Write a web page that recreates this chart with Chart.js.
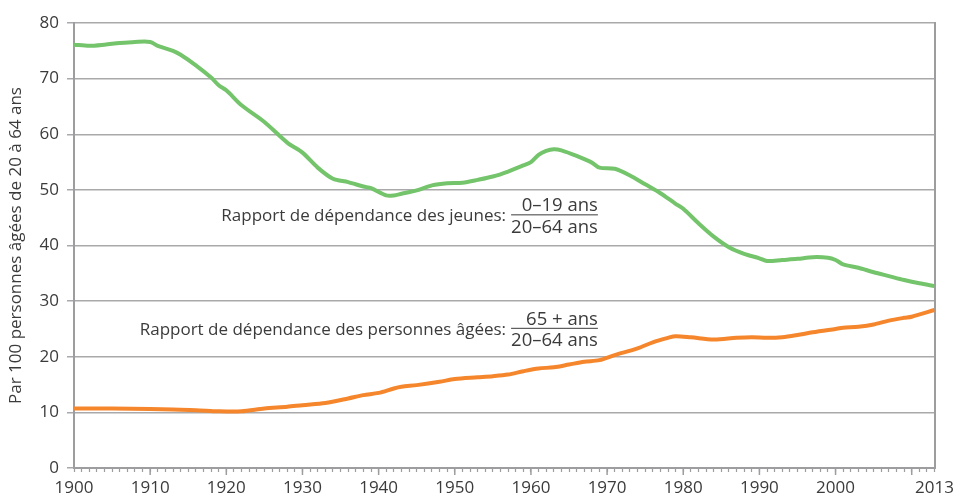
<!DOCTYPE html>
<html>
<head>
<meta charset="utf-8">
<script src="https://cdn.jsdelivr.net/npm/chart.js@4.4.0/dist/chart.umd.min.js"></script>
<style>
  html, body { margin: 0; padding: 0; background: #fff; }
  #wrap { width: 960px; height: 502px; }
</style>
</head>
<body>
<div id="wrap"><canvas id="chart"></canvas></div>
<script>
// Rapport de dépendance des jeunes (0-19 / 20-64)
const youngYears = [1900, 1902, 1904, 1906, 1908, 1910, 1911, 1913, 1914, 1916, 1918, 1919, 1920, 1922, 1925, 1928, 1930, 1932, 1934, 1936, 1938, 1939, 1941, 1942, 1943, 1945, 1947, 1949, 1951, 1953, 1955, 1957, 1959, 1960, 1961, 1962, 1963, 1964, 1966, 1968, 1969, 1971, 1973, 1975, 1977, 1979, 1980, 1982, 1984, 1986, 1988, 1990, 1991, 1993, 1995, 1997, 1999, 2000, 2001, 2003, 2005, 2007, 2009, 2011, 2013]
const youngValues = [76.1, 75.9, 76.1, 76.4, 76.6, 76.6, 75.9, 75.0, 74.3, 72.4, 70.2, 68.8, 67.9, 65.2, 62.2, 58.5, 56.7, 54.0, 52.0, 51.4, 50.6, 50.3, 49.0, 49.0, 49.3, 49.9, 50.8, 51.2, 51.3, 51.8, 52.4, 53.3, 54.4, 55.0, 56.3, 57.0, 57.3, 57.1, 56.1, 54.9, 54.0, 53.8, 52.6, 51.0, 49.4, 47.5, 46.6, 44.0, 41.6, 39.7, 38.5, 37.7, 37.2, 37.4, 37.6, 37.9, 37.8, 37.4, 36.6, 36.0, 35.2, 34.5, 33.8, 33.2, 32.7]

// Rapport de dépendance des personnes âgées (65+ / 20-64)
const oldYears = [1900, 1905, 1910, 1913, 1916, 1919, 1922, 1925, 1928, 1930, 1933, 1936, 1938, 1940, 1942, 1943, 1945, 1948, 1950, 1953, 1955, 1957, 1959, 1961, 1963, 1965, 1967, 1969, 1971, 1974, 1976, 1978, 1979, 1981, 1984, 1987, 1989, 1991, 1993, 1995, 1997, 2000, 2001, 2003, 2005, 2007, 2009, 2010, 2013]
const oldValues = [10.7, 10.7, 10.6, 10.5, 10.4, 10.2, 10.2, 10.7, 11.0, 11.3, 11.7, 12.5, 13.1, 13.5, 14.3, 14.6, 14.9, 15.5, 16.0, 16.3, 16.5, 16.8, 17.4, 17.9, 18.1, 18.6, 19.1, 19.4, 20.3, 21.5, 22.6, 23.4, 23.7, 23.5, 23.1, 23.4, 23.5, 23.4, 23.5, 23.9, 24.4, 25.0, 25.2, 25.4, 25.8, 26.5, 27.0, 27.2, 28.4]

const xLabels = [1900, 1910, 1920, 1930, 1940, 1950, 1960, 1970, 1980, 1990, 2000, 2013]
const yTitle = 'Par 100 personnes âgées de 20 à 64 ans'

const notes = [
  { text: 'Rapport de dépendance des jeunes:', num: '0–19 ans', den: '20–64 ans', x: 1957, y: 45.6 },
  { text: 'Rapport de dépendance des personnes âgées:', num: '65 + ans', den: '20–64 ans', x: 1957, y: 25.2 }
]

const textColor = '#3b3b3b'
const axisColor = '#9d9da0'
const fontFamily = '"Open Sans", sans-serif'
const fontSize = 17

// labels with fractions
const notesPlugin = {
  id: 'notes',
  afterDatasetsDraw(chart) {
    const { ctx, scales } = chart
    ctx.save()
    ctx.fillStyle = textColor
    ctx.strokeStyle = textColor
    ctx.lineWidth = 1
    notes.forEach(n => {
      const px = scales.x.getPixelForValue(n.x)
      const py = scales.y.getPixelForValue(n.y)
      ctx.font = fontSize + 'px ' + fontFamily
      ctx.textBaseline = 'middle'
      ctx.textAlign = 'right'
      ctx.fillText(n.text, px - 2, py + 2)
      ctx.font = '18.5px ' + fontFamily
      const w = Math.max(ctx.measureText(n.num).width, ctx.measureText(n.den).width)
      const left = px + 3
      ctx.beginPath()
      ctx.moveTo(left, py + 0.5)
      ctx.lineTo(left + w, py + 0.5)
      ctx.stroke()
      ctx.textAlign = 'right'
      ctx.textBaseline = 'alphabetic'
      ctx.fillText(n.num, left + w, py - 3)
      ctx.textBaseline = 'top'
      ctx.fillText(n.den, left + w, py + 4)
    })
    ctx.restore()
  }
}

// longer ticks each decade on the year axis
const decadeTicks = {
  id: 'decadeTicks',
  afterDraw(chart) {
    const { ctx, scales, chartArea } = chart
    ctx.save()
    ctx.strokeStyle = axisColor
    ctx.lineWidth = 1.5
    for (let yr = 1910; yr <= 2010; yr += 10) {
      const px = scales.x.getPixelForValue(yr)
      ctx.beginPath()
      ctx.moveTo(px, chartArea.bottom)
      ctx.lineTo(px, chartArea.bottom + 7)
      ctx.stroke()
    }
    ctx.restore()
  }
}

const ctx = document.getElementById('chart')

const myChart = new Chart(ctx, {
  type: 'line',
  data: {
    datasets: [
      {
        label: 'Jeunes',
        data: youngYears.map((x, i) => ({ x: x, y: youngValues[i] })),
        borderColor: '#74c46b',
        backgroundColor: '#74c46b',
        borderWidth: 4,
        pointRadius: 0,
        tension: 0.3,
        fill: false
      },
      {
        label: 'Personnes âgées',
        data: oldYears.map((x, i) => ({ x: x, y: oldValues[i] })),
        borderColor: '#f5862c',
        backgroundColor: '#f5862c',
        borderWidth: 4,
        pointRadius: 0,
        tension: 0.3,
        fill: false
      }
    ]
  },
  options: {
    responsive: true,
    maintainAspectRatio: false,
    animation: false,
    layout: { padding: { top: 23, left: 0, right: 0, bottom: 0 } },
    plugins: {
      legend: { display: false },
      tooltip: { enabled: false }
    },
    scales: {
      x: {
        type: 'linear',
        min: 1900,
        max: 2013,
        ticks: {
          stepSize: 1,
          autoSkip: false,
          maxTicksLimit: 200,
          maxRotation: 0,
          padding: 6,
          color: textColor,
          font: { family: fontFamily, size: fontSize },
          callback: v => xLabels.includes(v) ? String(v) : ''
        },
        grid: { drawOnChartArea: false, tickLength: 4, color: axisColor, tickWidth: 1.2 },
        border: { color: axisColor, width: 2 },
        afterFit: s => { s.height = 34 }
      },
      y: {
        min: 0,
        max: 80,
        ticks: {
          stepSize: 10,
          padding: 8,
          color: textColor,
          font: { family: fontFamily, size: fontSize }
        },
        grid: { color: '#a9a9ac', lineWidth: 1.5, tickLength: 7 },
        border: { color: axisColor, width: 2 },
        title: {
          display: true,
          text: yTitle,
          color: textColor,
          font: { family: fontFamily, size: fontSize },
          padding: { top: 6, bottom: 0 }
        },
        afterFit: s => { s.width = 74 }
      },
      y2: {
        position: 'right',
        min: 0,
        max: 80,
        ticks: { display: false },
        grid: { drawOnChartArea: false, drawTicks: false },
        border: { color: axisColor, width: 2 },
        afterFit: s => { s.width = 23 }
      }
    }
  },
  plugins: [notesPlugin, decadeTicks]
})
</script>
</body>
</html>
